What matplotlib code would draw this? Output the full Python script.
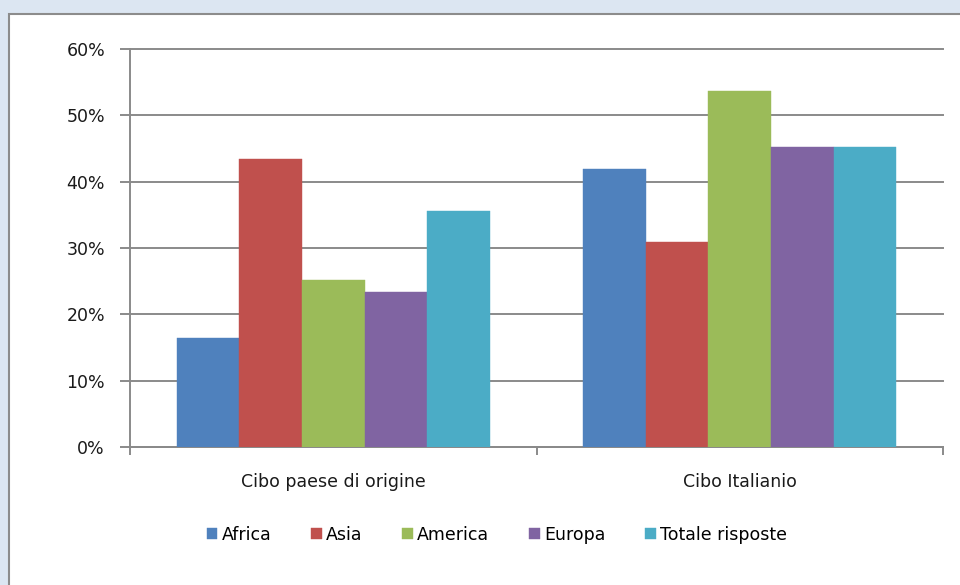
import numpy as np
import matplotlib
matplotlib.use("Agg")
import matplotlib.pyplot as plt
from matplotlib.patches import Rectangle
from matplotlib.ticker import PercentFormatter

CATEGORIES = ["Cibo paese di origine", "Cibo Italianio"]
SERIES = ["Africa", "Asia", "America", "Europa", "Totale risposte"]
AFRICA = [16.4, 41.9]
ASIA = [43.4, 30.9]
AMERICA = [25.2, 53.7]
EUROPA = [23.4, 45.2]
TOTALE = [35.6, 45.2]
COLORS = ["#4f81bd", "#c0504d", "#9bbb59", "#8064a2", "#4bacc6"]
YTICKS = [0, 10, 20, 30, 40, 50, 60]

values = [AFRICA, ASIA, AMERICA, EUROPA, TOTALE]

fig = plt.figure(figsize=(9.6, 5.85), dpi=100, facecolor="#dce6f2")
# white chart area with gray frame, behind the axes
fig.patches.append(Rectangle((9 / 960, -0.01), 1.0, (585 - 14) / 585 + 0.01,
                             transform=fig.transFigure, facecolor="white",
                             edgecolor="#8c8c8c", linewidth=1.5, zorder=-5))

ax = fig.add_axes([130 / 960, 1 - 447 / 585, 813 / 960, 398 / 585])
ax.set_facecolor("none")

x = np.arange(len(CATEGORIES))
w = 0.154
for i, (name, vals) in enumerate(zip(SERIES, values)):
    off = (i - 2) * w
    ax.bar(x + off, vals, width=w, color=COLORS[i], label=name, zorder=3,
           edgecolor=COLORS[i], linewidth=0.3)

ax.set_xlim(-0.5, 1.5)
ax.set_ylim(0, 60)
ax.set_yticks(YTICKS)
ax.yaxis.set_major_formatter(PercentFormatter(decimals=0))
ax.grid(axis="y", color="#8a8a8a", linewidth=1.4, zorder=0)
for gl in ax.get_ygridlines():
    gl.set_clip_on(False)

ax.set_xticks([-0.5, 0.5, 1.5])
ax.set_xticklabels([])
ax.set_xticks(x, minor=True)
ax.set_xticklabels(CATEGORIES, minor=True)
ax.tick_params(axis="x", which="minor", length=0, pad=19, labelsize=12.5, labelcolor="#1a1a1a")
ax.tick_params(axis="x", which="major", length=6, width=1.4, color="#8a8a8a")
ax.tick_params(axis="y", length=7, width=1.4, color="#8a8a8a", pad=11,
               labelsize=12.5, labelcolor="#1a1a1a")

for s in ["top", "right"]:
    ax.spines[s].set_visible(False)
for s in ["left", "bottom"]:
    ax.spines[s].set_color("#8a8a8a")
    ax.spines[s].set_linewidth(1.4)

fig.legend(loc="center", bbox_to_anchor=(497 / 960, 1 - 535 / 585), ncol=5,
           frameon=False, fontsize=12.5, handlelength=0.6, handleheight=0.6,
           handletextpad=0.25, columnspacing=2.3)

fig.savefig("out.png", dpi=100, facecolor=fig.get_facecolor())
